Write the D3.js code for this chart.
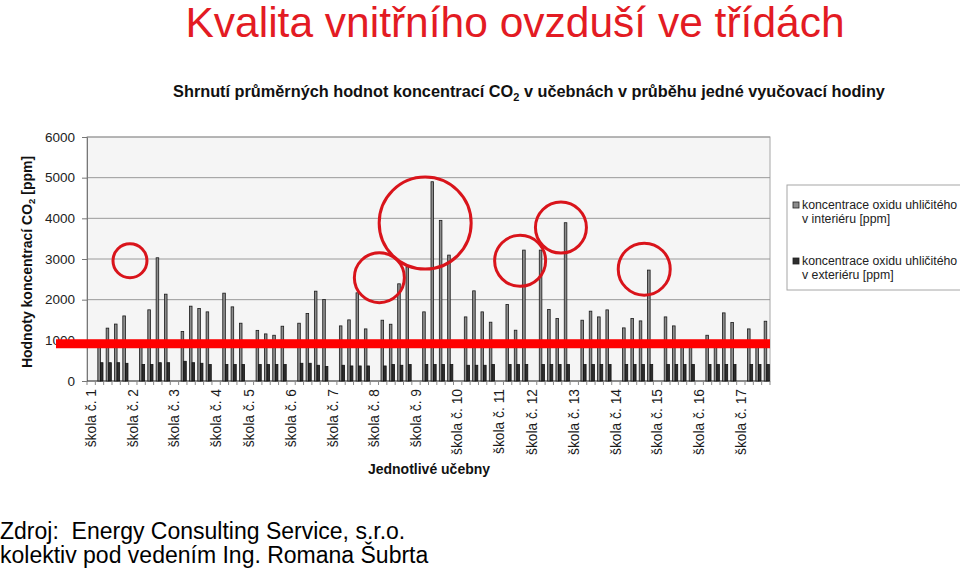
<!DOCTYPE html>
<html><head><meta charset="utf-8">
<script src="https://cdn.jsdelivr.net/npm/d3@7"></script>
<style>
html,body{margin:0;padding:0;background:#fff;}
svg{display:block;font-family:Arial,"Liberation Sans",sans-serif;}
</style></head>
<body><svg id="c" width="960" height="573"></svg>
<script>
// ---- data ----
const schools = ["škola č. 1","škola č. 2","škola č. 3","škola č. 4","škola č. 5","škola č. 6","škola č. 7","škola č. 8","škola č. 9","škola č. 10","škola č. 11","škola č. 12","škola č. 13","škola č. 14","škola č. 15","škola č. 16","škola č. 17"];
const interior = [
  [900,1300,1400,1600],[900,1750,3030,2135],[1216,1840,1783,1700],[2160,1823,1421],
  [1245,1158,1125,1347],[1421,1660,2209,2004],[1355,1503,2168,1281],[1495,1396,2390,2808],
  [1700,4900,3950,3096],[1576,2217,1700,1446],[1882,1249,3219],[3219,1758,1536,3892],
  [1495,1717,1576,1749],[1306,1536,1478,2727],[1576,1355,900,900],[1125,900,1675,1438],
  [1281,900,1470]
];
const exterior = [
  [450,450,450,435],[405,405,450,450],[485,450,436,404],[404,404,404],
  [404,404,404,404],[436,436,387,355],[387,370,370,370],[370,404,387,404],
  [404,404,404,404],[387,387,387,404],[404,404,404],[404,404,404,404],
  [404,404,404,404],[404,404,404,404],[404,404,404,404],[404,404,404,404],
  [404,404,404]
];
const yTicks = [0,1000,2000,3000,4000,5000,6000];
const legendLabels = [["koncentrace oxidu uhličitého","v interiéru [ppm]"],["koncentrace oxidu uhličitého","v exteriéru [ppm]"]];
const limitValue = 916;
// annotations: category position (fractional index), value, radius in px
const annotations = [
  {cat:4.66, value:2956, r:17},
  {cat:34.6, value:2542, r:25},
  {cat:40.1, value:3884, r:46},
  {cat:51.5, value:2956, r:25.5},
  {cat:56.4, value:3773, r:25.5},
  {cat:66.4, value:2751, r:26}
];

// ---- build categories ----
const cats = [];
const rows = [];
schools.forEach((s,i)=>{
  cats.push({id:"L"+i, label:s});
  interior[i].forEach((v,j)=>{
    const id = "S"+i+"_"+j;
    cats.push({id, label:""});
    rows.push({id, inn:v, ext:exterior[i][j]});
  });
});

const svg = d3.select("#c");
const L=87, R=770, T=137, B=381;
svg.append("rect").attr("width",960).attr("height",573).attr("fill","#fff");

const x = d3.scaleBand().domain(cats.map(c=>c.id)).range([L,R]).padding(0);
const step = x.step();
const sub = d3.scaleBand().domain(["inn","ext"]).range([step*0.3, step*0.92]).padding(0);
const y = d3.scaleLinear().domain([0,6000]).range([B,T]);

// title
svg.append("text").attr("x",515).attr("y",37).attr("text-anchor","middle")
  .attr("font-size",42.5).attr("fill","#E31B23").text("Kvalita vnitřního ovzduší ve třídách");
// subtitle
const st = svg.append("text").attr("x",529).attr("y",97).attr("text-anchor","middle")
  .attr("font-size",16.3).attr("font-weight","bold").attr("fill","#111");
st.append("tspan").text("Shrnutí průměrných hodnot koncentrací CO");
st.append("tspan").attr("font-size",11).attr("dy",4).text("2");
st.append("tspan").attr("dy",-4).text(" v učebnách v průběhu jedné vyučovací hodiny");

// plot background
svg.append("rect").attr("x",L).attr("y",T).attr("width",R-L).attr("height",B-T)
  .attr("fill","#f5f5f5").attr("stroke","#a6a6a6");
// gridlines
svg.append("g").selectAll("line").data(yTicks.filter(d=>d>0)).join("line")
  .attr("x1",L).attr("x2",R).attr("y1",d=>y(d)).attr("y2",d=>y(d))
  .attr("stroke","#9a9a9a").attr("stroke-width",1);

// y axis
const ya = svg.append("g").attr("transform",`translate(${L},0)`)
  .call(d3.axisLeft(y).tickValues(yTicks).tickSize(5).tickPadding(7).tickFormat(d3.format("d")));
ya.select(".domain").attr("stroke","#777");
ya.selectAll(".tick line").attr("stroke","#777");
ya.selectAll("text").attr("font-size",13.5).attr("fill","#222").attr("font-family","Arial,'Liberation Sans',sans-serif");

// x axis
const xa = svg.append("g").attr("transform",`translate(0,${B})`);
xa.append("line").attr("x1",L).attr("x2",R).attr("stroke","#444");
xa.selectAll("line.t").data(d3.range(cats.length+1)).join("line").attr("class","t")
  .attr("x1",i=>L+i*step).attr("x2",i=>L+i*step).attr("y1",0).attr("y2",4).attr("stroke","#888");
xa.selectAll("text").data(cats.filter(c=>c.label)).join("text")
  .attr("transform",c=>`translate(${x(c.id)+step/2},8) rotate(-90)`)
  .attr("text-anchor","end").attr("dy","0.35em").attr("font-size",13.8).attr("fill","#1a1a1a")
  .text(c=>c.label);

// bars
const bars = svg.append("g");
bars.selectAll("rect.in").data(rows).join("rect").attr("class","in")
  .attr("x",d=>x(d.id)+sub("inn")).attr("width",sub.bandwidth())
  .attr("y",d=>y(d.inn)).attr("height",d=>B-y(d.inn))
  .attr("fill","#8c8c8c").attr("stroke","#1a1a1a").attr("stroke-width",0.8);
bars.selectAll("rect.ex").data(rows).join("rect").attr("class","ex")
  .attr("x",d=>x(d.id)+sub("ext")).attr("width",sub.bandwidth())
  .attr("y",d=>y(d.ext)).attr("height",d=>B-y(d.ext))
  .attr("fill","#2e2e2e").attr("stroke","#111").attr("stroke-width",0.8);

// axis titles
svg.append("text").attr("x",429).attr("y",474).attr("text-anchor","middle")
  .attr("font-size",14).attr("font-weight","bold").attr("fill","#111").text("Jednotlivé učebny");
const yt = svg.append("text").attr("transform","translate(32,262) rotate(-90)").attr("text-anchor","middle")
  .attr("font-size",14).attr("font-weight","bold").attr("fill","#111");
yt.append("tspan").text("Hodnoty koncentrací CO");
yt.append("tspan").attr("font-size",9.5).attr("dy",3).text("2");
yt.append("tspan").attr("dy",-3).text(" [ppm]");

// legend
svg.append("rect").attr("x",787).attr("y",185).attr("width",190).attr("height",105)
  .attr("fill","#fff").attr("stroke","#a6a6a6");
const lg = svg.append("g");
const lgY = [209, 265];
const lgFill = ["#8c8c8c","#2e2e2e"];
legendLabels.forEach((lines,i)=>{
  lg.append("rect").attr("x",793).attr("y",lgY[i]-7).attr("width",6).attr("height",6)
    .attr("fill",lgFill[i]).attr("stroke","#222").attr("stroke-width",0.8);
  lines.forEach((t,k)=>{
    lg.append("text").attr("x",802).attr("y",lgY[i]+k*14).attr("font-size",12.3).attr("fill","#222").text(t);
  });
});

// red annotations
svg.append("line").attr("x1",56).attr("x2",R).attr("y1",y(limitValue)).attr("y2",y(limitValue))
  .attr("stroke","#FF0000").attr("stroke-width",9);
svg.append("g").selectAll("circle").data(annotations).join("circle")
  .attr("cx",d=>L+(d.cat+0.5)*step).attr("cy",d=>y(d.value)).attr("r",d=>d.r)
  .attr("fill","none").attr("stroke","#D9141B").attr("stroke-width",3);

// source
const src = svg.append("g").attr("font-size",23).attr("fill","#000");
src.append("text").attr("x",0).attr("y",539).attr("xml:space","preserve").style("white-space","pre")
  .text("Zdroj:  Energy Consulting Service, s.r.o.");
src.append("text").attr("x",0).attr("y",563).text("kolektiv pod vedením Ing. Romana Šubrta");
</script></body></html>
